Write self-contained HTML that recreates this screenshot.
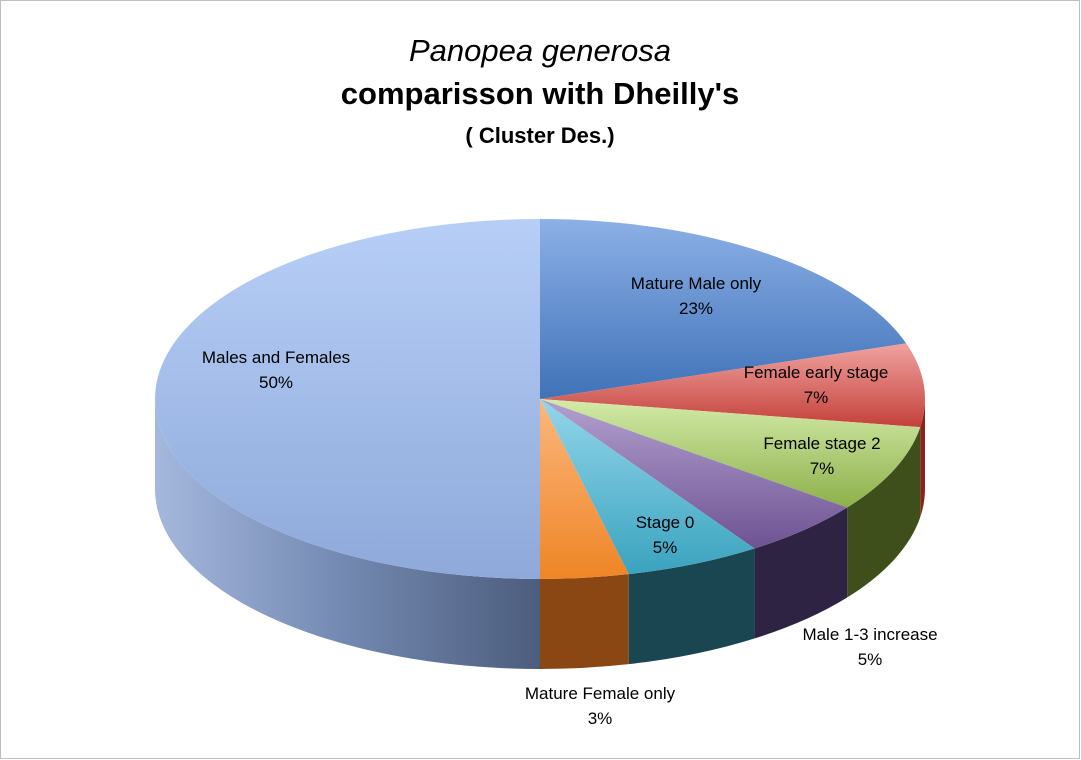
<!DOCTYPE html>
<html><head><meta charset="utf-8"><style>
html,body{margin:0;padding:0;background:#fff;}
svg{display:block;font-family:"Liberation Sans",sans-serif;}
</style></head><body>
<svg id="chart" width="1081" height="760" viewBox="0 0 1081 760">
<defs>
<linearGradient id="gBlue" x1="0" y1="0" x2="0" y2="1"><stop offset="0" stop-color="#8cb0e6"/><stop offset="1" stop-color="#3f72b8"/></linearGradient>
<linearGradient id="gRed" x1="0" y1="0" x2="0" y2="1"><stop offset="0" stop-color="#f0a3a0"/><stop offset="1" stop-color="#c5403a"/></linearGradient>
<linearGradient id="gGreen" x1="0" y1="0" x2="0" y2="1"><stop offset="0" stop-color="#d3eba8"/><stop offset="1" stop-color="#8db04a"/></linearGradient>
<linearGradient id="gPurple" x1="0" y1="0" x2="0" y2="1"><stop offset="0" stop-color="#b3a0cf"/><stop offset="1" stop-color="#6e5393"/></linearGradient>
<linearGradient id="gAqua" x1="0" y1="0" x2="0" y2="1"><stop offset="0" stop-color="#93d6ea"/><stop offset="1" stop-color="#3aa3bf"/></linearGradient>
<linearGradient id="gOrange" x1="0" y1="0" x2="0" y2="1"><stop offset="0" stop-color="#fbb77d"/><stop offset="1" stop-color="#ef8526"/></linearGradient>
<linearGradient id="gLight" x1="0" y1="0" x2="0" y2="1"><stop offset="0" stop-color="#b7cff7"/><stop offset="1" stop-color="#8ea9da"/></linearGradient>
<linearGradient id="sLight" x1="0" y1="0" x2="1" y2="0"><stop offset="0" stop-color="#a4b8de"/><stop offset="0.5" stop-color="#7388b0"/><stop offset="1" stop-color="#4c5d7d"/></linearGradient>
</defs>
<rect x="0.5" y="0.5" width="1079" height="758" fill="#fff" stroke="#bdbdbd"/>
<text x="540" y="61" text-anchor="middle" font-size="31" font-style="italic">Panopea generosa</text>
<text x="540" y="104" text-anchor="middle" font-size="31" font-weight="bold">comparisson with Dheilly's</text>
<text x="540" y="143" text-anchor="middle" font-size="22" font-weight="bold">( Cluster Des.)</text>
<g id="sides"></g><g id="tops"></g><g id="labels"></g>
</svg>
<script>
const categories = ["Mature Male only","Female early stage","Female stage 2","Male 1-3 increase","Stage 0","Mature Female only","Males and Females"];
const values = [20, 7.5, 7.8, 5.3, 5.7, 3.7, 50];
const printedLabels = ["23%","7%","7%","5%","5%","3%","50%"];
const topFills = ["url(#gBlue)","url(#gRed)","url(#gGreen)","url(#gPurple)","url(#gAqua)","url(#gOrange)","url(#gLight)"];
const sideFills = ["#2f5590","#8c231e","#3f4f1c","#2e2342","#1a4652","#8a4714","url(#sLight)"];
const labelAnchors = [[696,289],[816,378],[822,449],[870,640],[665,528],[600,699],[276,363]];

const cx=540, cy=399, rx=385, ry=180, depth=90;
const NS="http://www.w3.org/2000/svg";
const total = values.reduce((a,b)=>a+b,0);
function px(a){return cx+rx*Math.sin(a);}
function py(a){return cy-ry*Math.cos(a);}
const sides=document.getElementById('sides'), tops=document.getElementById('tops'), labels=document.getElementById('labels');
let acc=0;
const slices=[];
values.forEach((v,i)=>{
  const a1=acc/total*2*Math.PI; acc+=v; const a2=acc/total*2*Math.PI;
  slices.push([a1,a2]);
});
slices.forEach(([a1,a2],i)=>{
  const s=Math.max(a1,Math.PI/2), e=Math.min(a2,3*Math.PI/2);
  if(e>s){
    const large=(e-s)>Math.PI?1:0;
    const d=`M${px(s)},${py(s)} A${rx},${ry} 0 ${large} 1 ${px(e)},${py(e)} L${px(e)},${py(e)+depth} A${rx},${ry} 0 ${large} 0 ${px(s)},${py(s)+depth} Z`;
    const p=document.createElementNS(NS,'path');
    p.setAttribute('d',d); p.setAttribute('fill',sideFills[i]);
    
    
    sides.appendChild(p);
  }
  const large=(a2-a1)>Math.PI?1:0;
  const d=`M${cx},${cy} L${px(a1)},${py(a1)} A${rx},${ry} 0 ${large} 1 ${px(a2)},${py(a2)} Z`;
  const t=document.createElementNS(NS,'path');
  t.setAttribute('d',d); t.setAttribute('fill',topFills[i]);
  
  
  tops.appendChild(t);
});
categories.forEach((c,i)=>{
  const [x,y]=labelAnchors[i];
  const t1=document.createElementNS(NS,'text');
  t1.setAttribute('x',x); t1.setAttribute('y',y); t1.setAttribute('text-anchor','middle'); t1.setAttribute('font-size','17');
  t1.textContent=c;
  
  
  labels.appendChild(t1);
  const t2=document.createElementNS(NS,'text');
  t2.setAttribute('x',x); t2.setAttribute('y',y+25); t2.setAttribute('text-anchor','middle'); t2.setAttribute('font-size','17');
  t2.textContent=printedLabels[i];
  
  
  labels.appendChild(t2);
});
</script>
</body></html>
